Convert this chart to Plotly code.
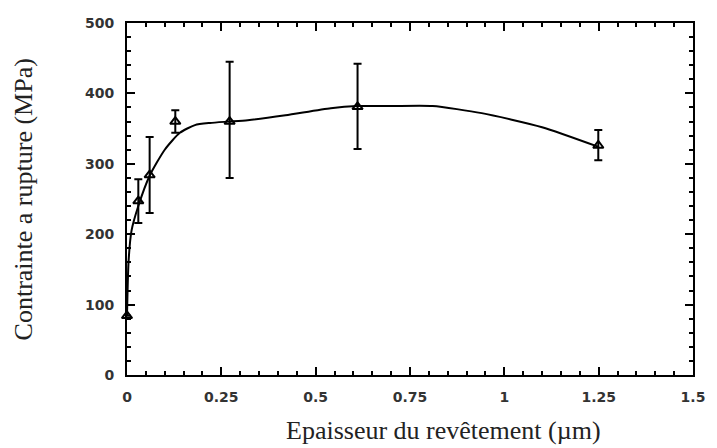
import plotly.graph_objects as go

# Measured points
thickness = [0.0, 0.03, 0.06, 0.128, 0.272, 0.611, 1.249]
stress = [84, 247, 284, 360, 360, 381, 326]
err_plus = [0, 31, 54, 16, 85, 61, 22]
err_minus = [0, 31, 54, 16, 80, 60, 21]

# Fitted curve
fit_x = [0.0, 0.004, 0.012, 0.03, 0.06, 0.10, 0.14, 0.18, 0.22, 0.27, 0.32, 0.42,
         0.54, 0.61, 0.70, 0.81, 0.94, 1.10, 1.25]
fit_y = [84, 160, 205, 240, 283, 320, 344, 355, 358, 360, 362, 369,
         379, 382, 382, 382, 372, 352, 324]

x_ticks = [0, 0.25, 0.5, 0.75, 1, 1.25, 1.5]
x_labels = ["0", "0.25", "0.5", "0.75", "1", "1.25", "1.5"]
y_ticks = [0, 100, 200, 300, 400, 500]
y_labels = ["0", "100", "200", "300", "400", "500"]

fig = go.Figure()
fig.add_trace(go.Scatter(
    x=fit_x, y=fit_y, mode="lines",
    line=dict(color="black", width=2, shape="spline", smoothing=0.6),
    hoverinfo="skip", cliponaxis=False))
fig.add_trace(go.Scatter(
    x=thickness, y=stress, mode="markers",
    marker=dict(symbol="triangle-up-open", size=9, color="black",
                line=dict(color="black", width=2)),
    error_y=dict(type="data", array=err_plus, arrayminus=err_minus,
                 color="black", thickness=2, width=4),
    cliponaxis=False))

axis_common = dict(
    showline=True, linecolor="black", linewidth=2, mirror="ticks",
    ticks="inside", ticklen=8, tickwidth=2, tickcolor="black",
    showgrid=False, zeroline=False,
    tickfont=dict(family="DejaVu Sans", size=14, color="#333", weight="bold"),
)

fig.update_xaxes(range=[0, 1.5], tickvals=x_ticks, ticktext=x_labels,
                 ticklabelstandoff=8,
                 minor=dict(dtick=0.05, ticks="inside", ticklen=4,
                            tickwidth=2, tickcolor="black", showgrid=False),
                 **axis_common)
fig.update_yaxes(range=[0, 500], tickvals=y_ticks, ticktext=y_labels,
                 ticklabelstandoff=8,
                 minor=dict(dtick=20, ticks="inside", ticklen=4,
                            tickwidth=2, tickcolor="black", showgrid=False),
                 **axis_common)

fig.add_annotation(text="Contrainte a rupture (MPa)", textangle=-90,
                   xref="paper", yref="paper", x=-0.183, y=0.5,
                   xanchor="center", yanchor="middle", showarrow=False,
                   font=dict(family="Liberation Serif", size=26, color="#222"))
fig.add_annotation(text="Epaisseur du revêtement (µm)",
                   xref="paper", yref="paper", x=0.56, y=-0.157,
                   xanchor="center", yanchor="middle", showarrow=False,
                   font=dict(family="Liberation Serif", size=26, color="#222"))

fig.update_layout(
    width=717, height=448,
    margin=dict(l=127, r=16, t=23, b=73),
    paper_bgcolor="white", plot_bgcolor="white",
    showlegend=False,
)

fig.write_html("out.html")
